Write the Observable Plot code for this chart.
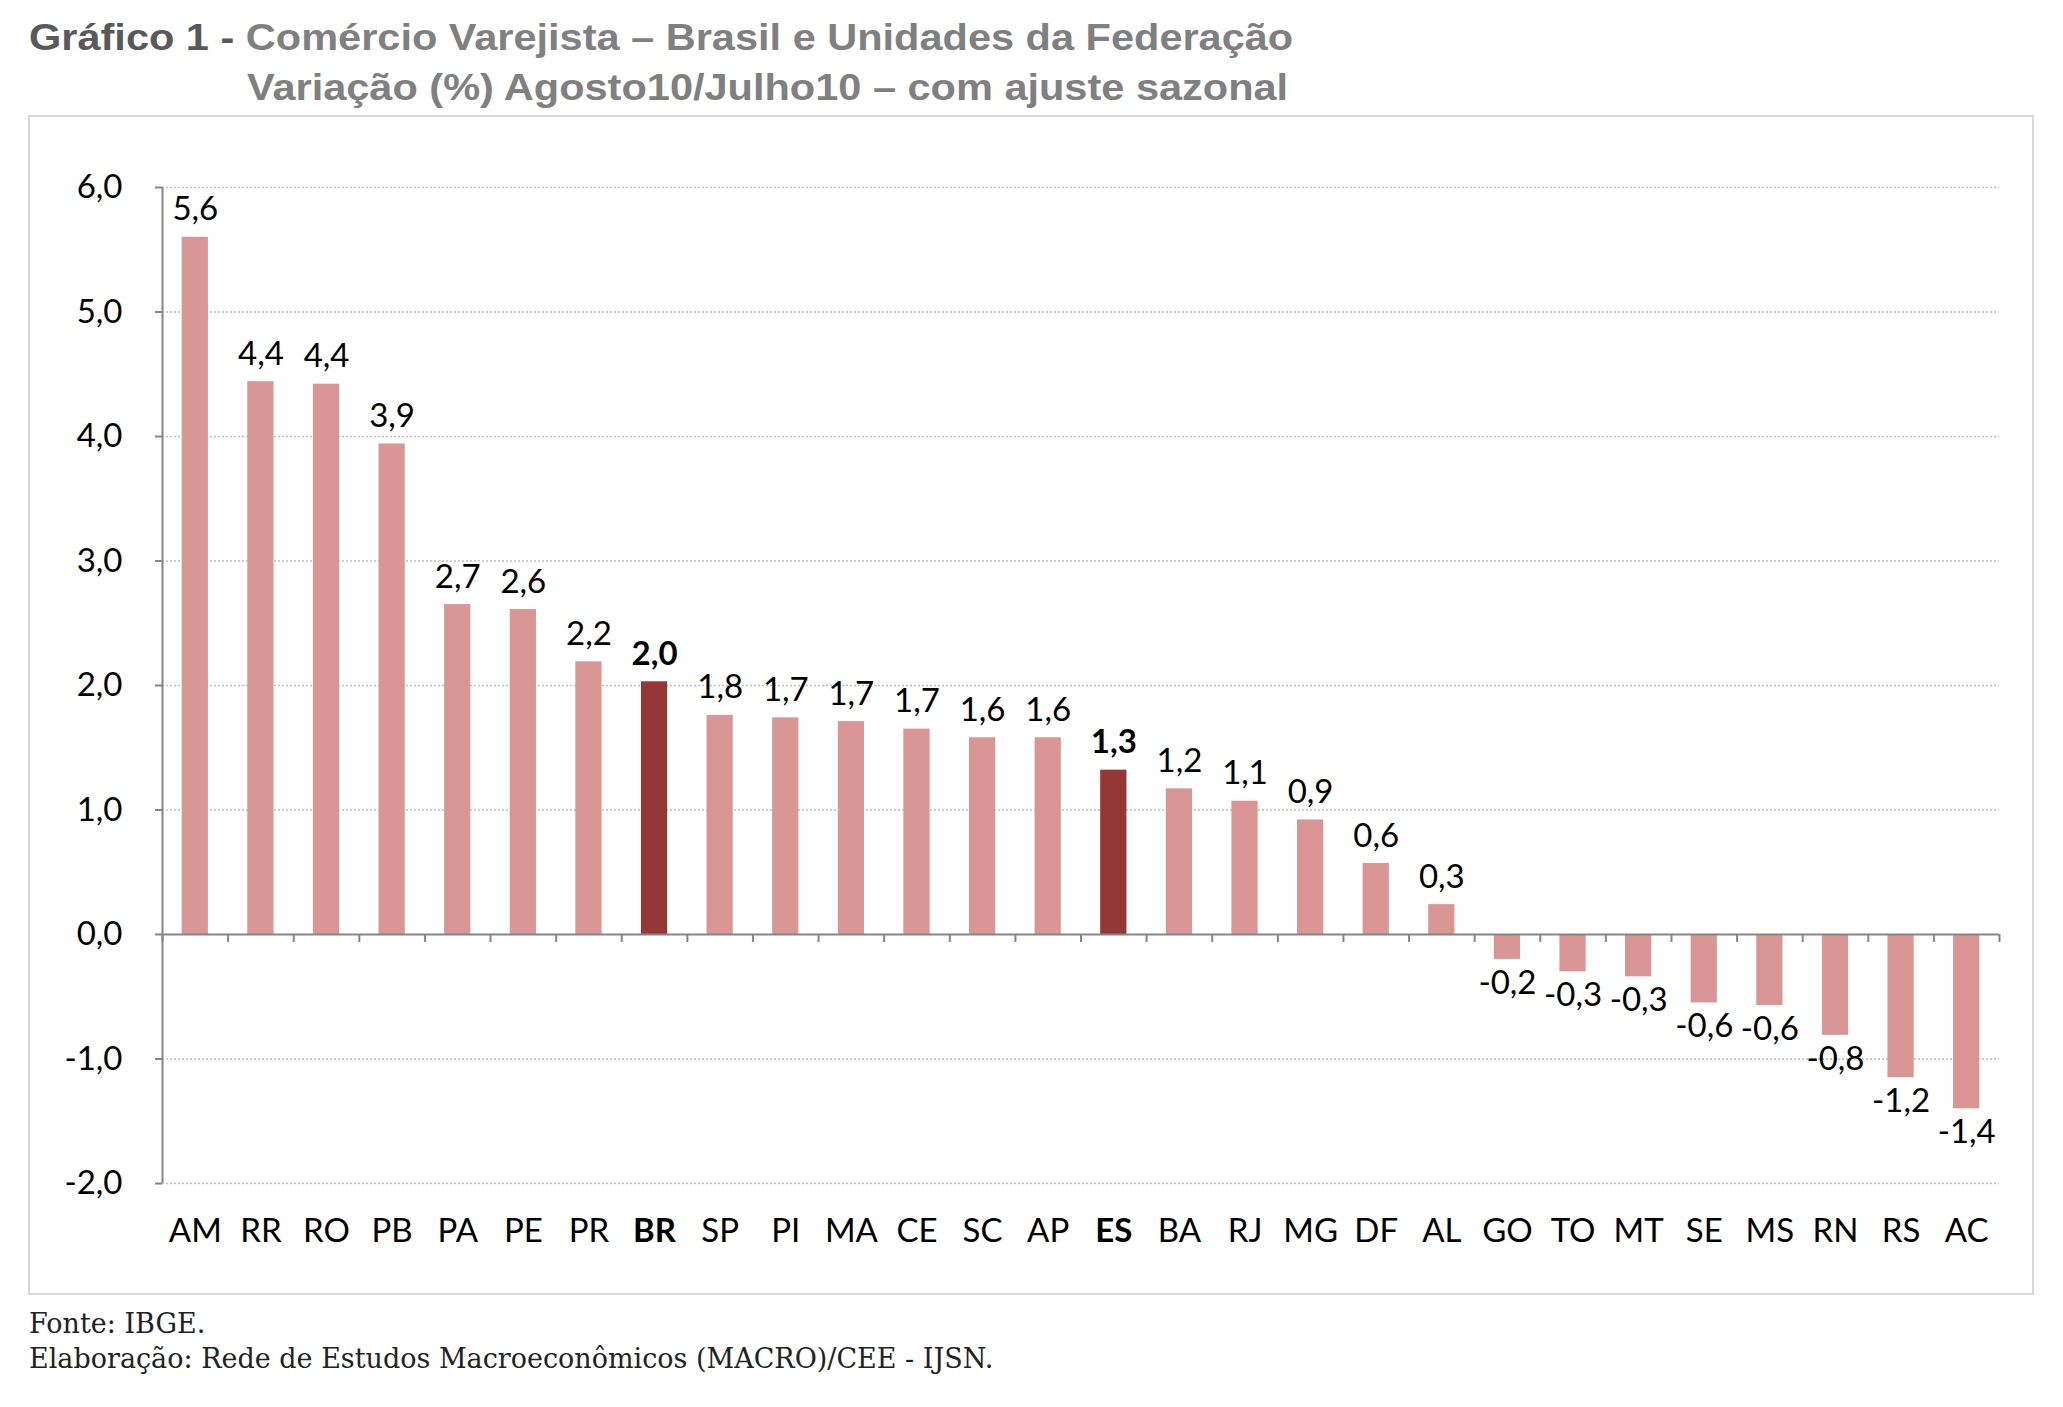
<!DOCTYPE html>
<html>
<head>
<meta charset="utf-8">
<script src="https://cdn.jsdelivr.net/npm/d3@7"></script>
<script src="https://cdn.jsdelivr.net/npm/@observablehq/plot@0.6"></script>
<style>
  html, body { margin: 0; padding: 0; background: #fff; }
  body { width: 2063px; height: 1407px; position: relative; overflow: hidden; }
  .title { position: absolute; font-family: "Liberation Sans", Arial, sans-serif; font-weight: bold; font-size: 36px; line-height: 36px; color: #808080; white-space: nowrap; transform: scaleX(1.153); transform-origin: 0 0; }
  .title .lead { color: #595959; }
  #chart { position: absolute; left: 29px; top: 116px; }
  #frame { position: absolute; left: 28px; top: 115px; width: 2006px; height: 1180px; border: 2px solid #d9d9d9; box-sizing: border-box; pointer-events: none; }
  .foot { position: absolute; left: 29px; font-family: "DejaVu Serif", serif; font-size: 27px; line-height: 27px; color: #222; white-space: nowrap; }
</style>
</head>
<body>
<div class="title" style="left:29px; top:20px;"><span class="lead">Gráfico 1 - </span>Comércio Varejista – Brasil e Unidades da Federação</div>
<div class="title" style="left:247px; top:70px;">Variação (%) Agosto10/Julho10 – com ajuste sazonal</div>
<div id="chart"></div>
<div id="frame"></div>
<div class="foot" style="top:1310px;">Fonte: IBGE.</div>
<div class="foot" style="top:1345px;">Elaboração: Rede de Estudos Macroeconômicos (MACRO)/CEE - IJSN.</div>
<script>
// Categories (Brasil and federation units), in chart order
const categories = ["AM","RR","RO","PB","PA","PE","PR","BR","SP","PI","MA","CE","SC","AP","ES","BA","RJ","MG","DF","AL","GO","TO","MT","SE","MS","RN","RS","AC"];
// Bar heights (% change)
const values = [5.60, 4.44, 4.42, 3.94, 2.65, 2.61, 2.19, 2.03, 1.76, 1.74, 1.71, 1.65, 1.58, 1.58, 1.32, 1.17, 1.07, 0.92, 0.57, 0.24, -0.20, -0.30, -0.34, -0.55, -0.57, -0.81, -1.15, -1.40];
// Data labels as printed
const labels = ["5,6","4,4","4,4","3,9","2,7","2,6","2,2","2,0","1,8","1,7","1,7","1,7","1,6","1,6","1,3","1,2","1,1","0,9","0,6","0,3","-0,2","-0,3","-0,3","-0,6","-0,6","-0,8","-1,2","-1,4"];
// Highlighted categories
const highlighted = ["BR", "ES"];
// Y axis tick values
const yTicks = [-2, -1, 0, 1, 2, 3, 4, 5, 6];

const data = categories.map((uf, i) => ({uf, v: values[i], label: labels[i], hl: highlighted.includes(uf)}));

const W = 2006, H = 1180, ML = 133, MR = 36, MT = 71, MB = 113;
const step = (W - ML - MR) / categories.length;
const fmt = d => d.toFixed(1).replace(".", ",");
const axisGray = "#868686";

const normal = data.filter(d => !d.hl), hi = data.filter(d => d.hl);

const chart = Plot.plot({
  width: W, height: H,
  marginLeft: ML, marginRight: MR, marginTop: MT, marginBottom: MB,
  x: {domain: categories, paddingInner: 0.6, paddingOuter: 0.3, round: false, axis: null},
  y: {domain: [-2, 6], axis: null},
  style: {fontFamily: "Lato, sans-serif", background: "transparent", color: "#000", overflow: "visible"},
  marks: [
    Plot.ruleY(yTicks.filter(d => d !== 0), {stroke: "#bfbfbf", strokeWidth: 1.3, strokeDasharray: "2,2"}),
    Plot.barY(normal, {x: "uf", y: "v", fill: "#D99694"}),
    Plot.barY(hi, {x: "uf", y: "v", fill: "#953735"}),
    Plot.ruleY([0], {stroke: axisGray, strokeWidth: 2}),
    Plot.ruleX([categories[0]], {x: d => d, y1: -2, y2: 6, dx: -step / 2, stroke: axisGray, strokeWidth: 2}),
    Plot.ruleX(categories, {x: d => d, y1: 0, y2: 0, insetBottom: -8, dx: -step / 2, stroke: axisGray, strokeWidth: 2}),
    Plot.ruleX([categories[categories.length - 1]], {x: d => d, y1: 0, y2: 0, insetBottom: -8, dx: step / 2, stroke: axisGray, strokeWidth: 2}),
    Plot.axisY({ticks: yTicks, tickFormat: fmt, label: null, tickSize: 7, tickPadding: 33, fontSize: 33, stroke: axisGray, strokeWidth: 2, fill: "#000"}),
    // value labels
    Plot.text(normal.filter(d => d.v >= 0), {x: "uf", y: "v", text: "label", lineAnchor: "bottom", dy: -17, fontSize: 33, fill: "#000"}),
    Plot.text(hi.filter(d => d.v >= 0), {x: "uf", y: "v", text: "label", lineAnchor: "bottom", dy: -17, fontSize: 33, fontWeight: "bold", fill: "#000"}),
    Plot.text(data.filter(d => d.v < 0), {x: "uf", y: "v", text: "label", lineAnchor: "top", dy: 11, fontSize: 33, fill: "#000"}),
    // category labels
    Plot.text(normal, {x: "uf", text: "uf", frameAnchor: "bottom", lineAnchor: "middle", dy: 48, fontSize: 33, fill: "#000"}),
    Plot.text(hi, {x: "uf", text: "uf", frameAnchor: "bottom", lineAnchor: "middle", dy: 48, fontSize: 33, fontWeight: "bold", fill: "#000"})
  ]
});
document.getElementById("chart").appendChild(chart);
</script>
</body>
</html>
